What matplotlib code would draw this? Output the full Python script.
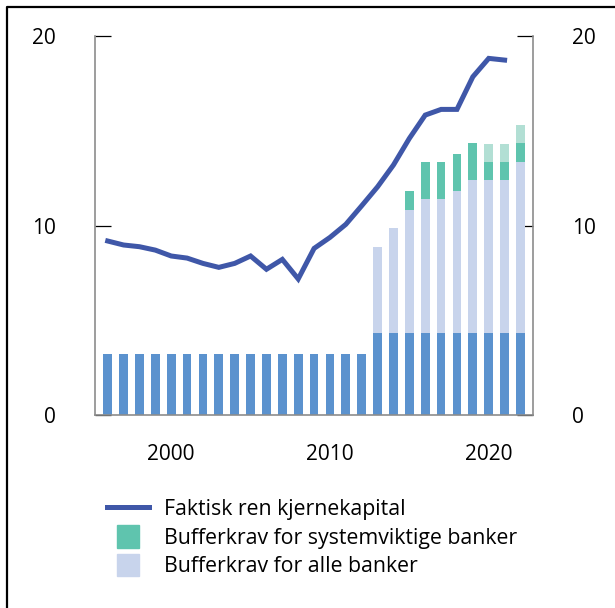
"""Kapitaldekning: faktisk ren kjernekapital mot bufferkrav, 1996-2022."""

import matplotlib
matplotlib.use("Agg")
import matplotlib.pyplot as plt
from matplotlib.legend_handler import HandlerPatch
from matplotlib.lines import Line2D
from matplotlib.patches import Patch, Rectangle

plt.rcParams["font.family"] = ["Open Sans", "DejaVu Sans"]

# ---------------------------------------------------------------------------
# Data
# ---------------------------------------------------------------------------

years = list(range(1996, 2023))

# Minimum requirement (dark blue base bars)
minimum = [3.25] * 17 + [4.35] * 10

# Buffer for all banks (stacked on minimum), 2013-2022
buffer_all = [0] * 17 + [4.52, 5.52, 6.47, 7.05, 7.05, 7.48, 8.05, 8.05, 8.05, 9.0]

# Buffer for systemically important banks
buffer_sys = [0] * 19 + [1.0, 1.95, 1.95, 1.95, 1.95, 0.95, 0.95, 1.0]

# Additional (pale green) part for systemically important banks
buffer_sys_extra = [0] * 24 + [0.95, 0.95, 0.95]

line_years = list(range(1996, 2022))
cet1_actual = [9.19, 8.98, 8.89, 8.71, 8.40, 8.29, 8.01, 7.80, 8.01, 8.40,
               7.70, 8.22, 7.19, 8.80, 9.38, 10.07, 11.05, 12.05, 13.2, 14.6,
               15.83, 16.13, 16.13, 17.85, 18.82, 18.73]

legend_labels = ["Faktisk ren kjernekapital",
                 "Bufferkrav for systemviktige banker",
                 "Bufferkrav for alle banker"]

C_LINE = "#3f57a8"
C_MIN = "#5b92ce"
C_ALL = "#c8d4ec"
C_SYS = "#5fc4ae"
C_SYS2 = "#b2dfd4"

# ---------------------------------------------------------------------------
# Plot
# ---------------------------------------------------------------------------

fig = plt.figure(figsize=(6.15, 6.08), dpi=100)
ax = fig.add_axes([95 / 615, 1 - 415.3 / 608, (532.7 - 95) / 615, (415.3 - 36) / 608])

w = 0.55
bottom1 = minimum
bottom2 = [a + b for a, b in zip(bottom1, buffer_all)]
bottom3 = [a + b for a, b in zip(bottom2, buffer_sys)]

ax.bar(years, minimum, width=w, color=C_MIN, zorder=2)
ax.bar(years, buffer_all, width=w, bottom=bottom1, color=C_ALL, zorder=2)
ax.bar(years, buffer_sys, width=w, bottom=bottom2, color=C_SYS, zorder=2)
ax.bar(years, buffer_sys_extra, width=w, bottom=bottom3, color=C_SYS2, zorder=2)

ax.plot(line_years, cet1_actual, color=C_LINE, lw=3.6, solid_joinstyle="miter", zorder=3)

ax.set_xlim(1995.2, 2022.77)
ax.set_ylim(0, 20)
ax.set_yticks([0, 10, 20])
ax.set_xticks([2000, 2010, 2020])

ax.spines["top"].set_visible(False)
for s in ("left", "right", "bottom"):
    ax.spines[s].set_color("#8c8c8c")
    ax.spines[s].set_linewidth(1.2)

ax.tick_params(axis="y", direction="in", length=11.5, width=0.9, color="black",
               labelsize=15, pad=28, left=True, right=True,
               labelleft=True, labelright=True)
ax.tick_params(axis="x", length=0, labelsize=15, pad=21)
ax.set_facecolor("none")


def square_patch(legend, orig_handle, xdescent, ydescent, width, height, fontsize):
    side = 16
    return Rectangle((-xdescent + (width - side) / 2, -ydescent + (height - side) / 2),
                     side, side)


handles = [Line2D([0], [0], color=C_LINE, lw=3.6),
           Patch(color=C_SYS),
           Patch(color=C_ALL)]
fig.legend(handles, legend_labels, loc="upper left",
           bbox_to_anchor=(98 / 615, 1 - 490 / 608), frameon=False,
           fontsize=15.3, handlelength=2.0, handleheight=1.0,
           handletextpad=0.72, labelspacing=0.32, borderaxespad=0,
           handler_map={Patch: HandlerPatch(patch_func=square_patch)})

# Outer frame (left and top edges visible in the reference)
fig.add_artist(Line2D([7 / 615, 7 / 615, 1.0], [0.0, 1 - 7 / 608, 1 - 7 / 608],
                      transform=fig.transFigure, color="black", lw=1.6))

fig.savefig("out.png", dpi=100)
